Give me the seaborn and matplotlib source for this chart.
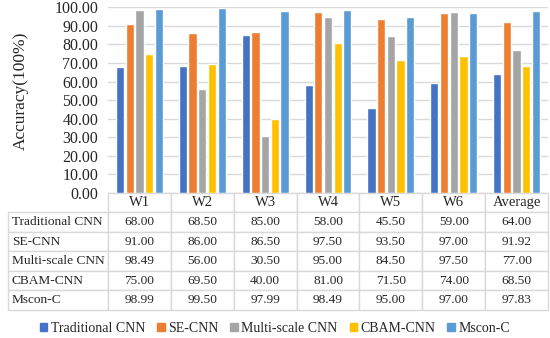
import numpy as np
import pandas as pd
import matplotlib
matplotlib.use("Agg")
import matplotlib.pyplot as plt
import matplotlib.patches as mpatches
import seaborn as sns

windows = ["W1", "W2", "W3", "W4", "W5", "W6", "Average"]
models = ["Traditional CNN", "SE-CNN", "Multi-scale CNN", "CBAM-CNN", "Mscon-C"]
trad_cnn = [68.00, 68.50, 85.00, 58.00, 45.50, 59.00, 64.00]
se_cnn = [91.00, 86.00, 86.50, 97.50, 93.50, 97.00, 91.92]
multi_cnn = [98.49, 56.00, 30.50, 95.00, 84.50, 97.50, 77.00]
cbam_cnn = [75.00, 69.50, 40.00, 81.00, 71.50, 74.00, 68.50]
mscon_c = [98.99, 99.50, 97.99, 98.49, 95.00, 97.00, 97.83]
colors = ["#4472C4", "#ED7D31", "#A5A5A5", "#FFC000", "#5B9BD5"]

series = [trad_cnn, se_cnn, multi_cnn, cbam_cnn, mscon_c]
df = pd.DataFrame({
    "window": windows * len(models),
    "model": np.repeat(models, len(windows)),
    "acc": np.concatenate(series),
})

sns.set_style("white")
plt.rcParams["font.family"] = ["Liberation Serif", "DejaVu Serif"]

fig = plt.figure(figsize=(5.5, 3.38), dpi=100)
ax = fig.add_axes([108 / 550, 145.3 / 338, 440 / 550, 185.3 / 338])

sns.barplot(data=df, x="window", y="acc", hue="model", hue_order=models,
            palette=colors, saturation=1, width=0.77, gap=0.15, errorbar=None,
            legend=False, ax=ax, zorder=3)

ax.set_ylim(0, 100)
ax.set_yticks(np.arange(0, 101, 10))
ax.set_yticklabels([f"{v:.2f}" for v in np.arange(0, 101, 10)], fontsize=11.5)
ax.yaxis.grid(True, color="#D9D9D9", linewidth=1)
ax.set_axisbelow(True)
ax.tick_params(axis="x", labelbottom=False, length=0)
ax.tick_params(axis="y", length=0, pad=7)
ax.set_xlabel("")
ax.set_ylabel("Accuracy(100%)", fontsize=12.5)
ax.yaxis.set_label_coords(-0.18, 0.55)
for s in ax.spines.values():
    s.set_visible(False)

# data table under the bars
cell_text = [[""] + windows]
for name, vals in zip(models, series):
    cell_text.append([name] + [f"{v:.2f}" for v in vals])

ax_h = 185.3
tb = ax.table(cellText=cell_text, cellLoc="center",
              colWidths=[100] + [440 / 7] * 7,
              bbox=[-100 / 440, -(310 - 192.7) / ax_h, 540 / 440, (310 - 192.7) / ax_h])
tb.auto_set_font_size(False)
tb.set_fontsize(9.6)
for (r, c), cell in tb.get_celld().items():
    cell.set_edgecolor("#D9D9D9")
    cell.set_linewidth(1)
    if r == 0:
        cell.get_text().set_fontsize(10.5)
    if c == 0:
        cell.PAD = 0.04
        cell.set_text_props(ha="left")
    if r == 0 and c == 0:
        cell.visible_edges = ""

handles = [mpatches.Patch(color=col, label=m) for col, m in zip(colors, models)]
fig.legend(handles=handles, loc="center", bbox_to_anchor=(0.5, 0.028), ncol=5,
           frameon=False, fontsize=10, handlelength=0.55, handleheight=0.55,
           handletextpad=0.25, columnspacing=0.85)

fig.savefig("out.png", dpi=100)
